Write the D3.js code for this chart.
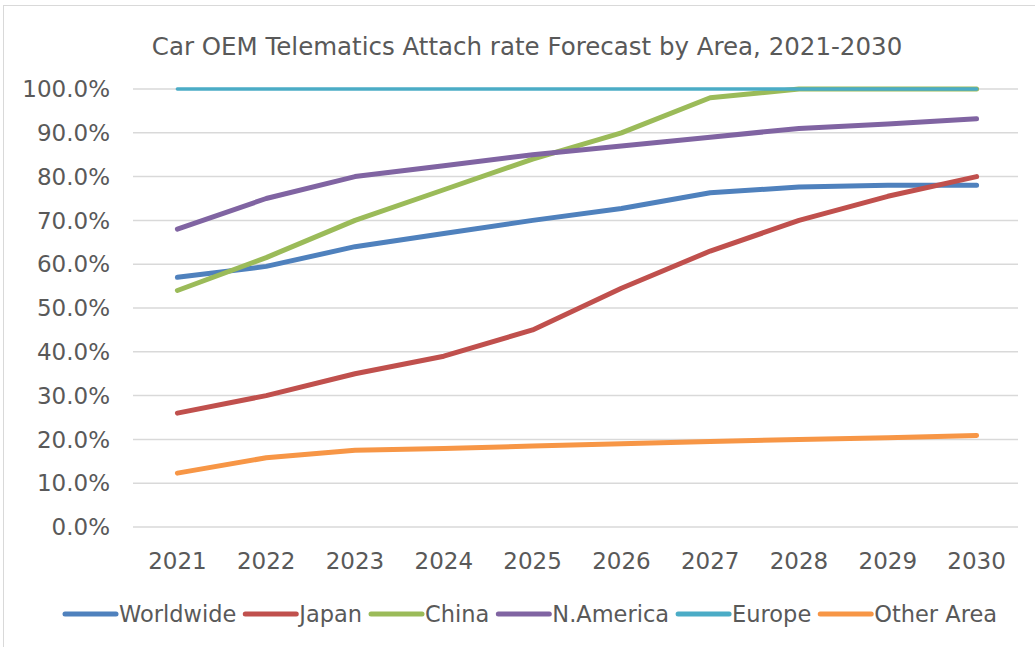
<html>
<head>
    <script src="https://d3js.org/d3.v7.min.js"></script>
    <style>
        body { margin: 0; background: #fff; }
        text { font-family: "DejaVu Sans", Verdana, sans-serif; fill: #595959; }
    </style>
</head>
<body>
    <svg id="svg" width="1035" height="647"></svg>
    <script>
        // DATA
        const years = ["2021", "2022", "2023", "2024", "2025", "2026", "2027", "2028", "2029", "2030"]
        const worldwide = [57, 59.5, 64, 67, 70, 72.7, 76.3, 77.6, 78, 78]
        const japan = [26, 30, 35, 39, 45, 54.5, 63, 70, 75.5, 80]
        const china = [54, 61.5, 70, 77, 84, 90, 98, 100, 100, 100]
        const nAmerica = [68, 75, 80, 82.5, 85, 87, 89, 91, 92, 93.2]
        const europe = [100, 100, 100, 100, 100, 100, 100, 100, 100, 100]
        const otherArea = [12.3, 15.8, 17.5, 17.9, 18.5, 19, 19.5, 20, 20.4, 20.9]
        const yTicks = [0, 10, 20, 30, 40, 50, 60, 70, 80, 90, 100]

        const series = [
            { name: "Worldwide", values: worldwide, color: "#4F81BD" },
            { name: "Japan", values: japan, color: "#C0504D" },
            { name: "China", values: china, color: "#9BBB59" },
            { name: "N.America", values: nAmerica, color: "#8064A2" },
            { name: "Europe", values: europe, color: "#4BACC6" },
            { name: "Other Area", values: otherArea, color: "#F79646" }
        ]

        const svg = d3.select("#svg")

        // frame
        svg.append("rect")
            .attr("x", 3.5).attr("y", 5.5)
            .attr("width", 1040).attr("height", 650)
            .attr("fill", "#fff").attr("stroke", "#d9d9d9")

        const x = d3.scaleBand().domain(years).range([133, 1021])
        const y = d3.scaleLinear().domain([0, 100]).range([527, 89])

        // title
        svg.append("text")
            .attr("x", 527).attr("y", 55)
            .attr("text-anchor", "middle")
            .style("font-size", "24.5px")
            .text("Car OEM Telematics Attach rate Forecast by Area, 2021-2030")

        // grid
        svg.append("g")
            .selectAll("line")
            .data(yTicks)
            .enter().append("line")
            .attr("x1", 133).attr("x2", 1018)
            .attr("y1", d => y(d)).attr("y2", d => y(d))
            .attr("stroke", "#d9d9d9").attr("stroke-width", 1.5)

        // y axis labels
        svg.append("g")
            .selectAll("text")
            .data(yTicks)
            .enter().append("text")
            .attr("x", 110).attr("y", d => y(d))
            .attr("dy", "0.36em")
            .attr("text-anchor", "end")
            .style("font-size", "23px")
            .text(d => d3.format(".1f")(d) + "%")

        // x axis labels
        svg.append("g")
            .selectAll("text")
            .data(years)
            .enter().append("text")
            .attr("x", d => x(d) + x.bandwidth() / 2).attr("y", 569)
            .attr("text-anchor", "middle")
            .style("font-size", "23px")
            .text(d => d)

        const line = d3.line()
            .x((d, i) => x(years[i]) + x.bandwidth() / 2)
            .y(d => y(d))

        // draw lines, Europe on top of China like the original order
        svg.append("g")
            .selectAll("path")
            .data(series)
            .enter().append("path")
            .attr("d", d => line(d.values))
            .attr("fill", "none")
            .attr("stroke", d => d.color)
            .attr("stroke-width", d => d.name === "Europe" ? 3.5 : 5)
            .attr("stroke-linecap", "round")
            .attr("stroke-linejoin", "round")

        // legend
        const legend = svg.append("g").attr("transform", "translate(0,614)")
        let lx = 65
        series.forEach(s => {
            legend.append("line")
                .attr("x1", lx).attr("x2", lx + 51)
                .attr("stroke", s.color).attr("stroke-width", 5)
                .attr("stroke-linecap", "round")
            const t = legend.append("text")
                .attr("x", lx + 54).attr("dy", "0.36em")
                .style("font-size", "22.5px")
                .text(s.name)
            lx += 54 + t.node().getComputedTextLength() + 9
        })
    </script>
</body>
</html>
